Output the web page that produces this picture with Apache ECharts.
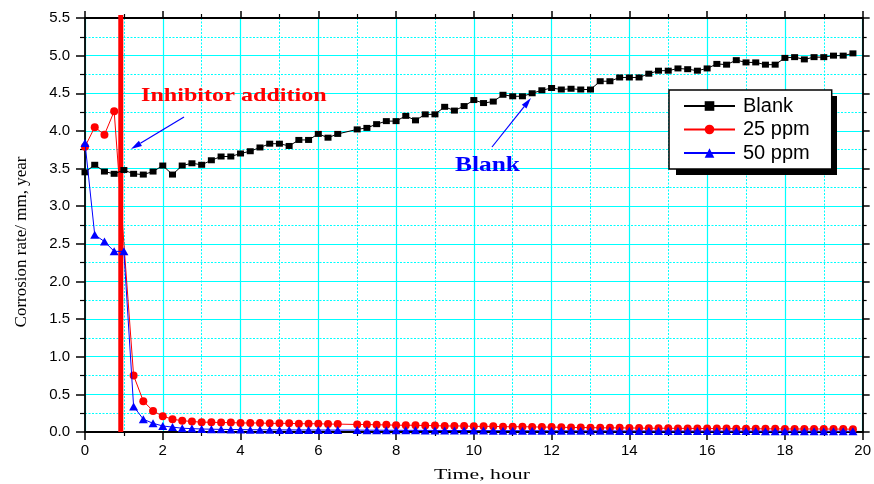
<!DOCTYPE html>
<html>
<head>
<meta charset="utf-8">
<script src="https://cdn.jsdelivr.net/npm/echarts@6/dist/echarts.min.js"></script>
<style>
  html, body { margin: 0; padding: 0; background: #fff; }
  #chart { width: 874px; height: 484px; }
</style>
</head>
<body>
<div id="chart"></div>
<script>
// Readings taken every 15 minutes over 20 hours (the 6.75 h reading is missing).
const hours = Array.from({ length: 80 }, (_, i) => i * 0.25);

// Corrosion rate, mm/year
const blankRate = [
  3.45, 3.55, 3.46, 3.43, 3.48, 3.43, 3.42, 3.46,   // 0 - 1.75 h
  3.54, 3.42, 3.54, 3.57, 3.55, 3.61, 3.66, 3.66,   // 2 - 3.75 h
  3.70, 3.73, 3.78, 3.83, 3.83, 3.80, 3.88, 3.88,   // 4 - 5.75 h
  3.96, 3.91, 3.96, null, 4.02, 4.04, 4.09, 4.13,   // 6 - 7.75 h
  4.13, 4.20, 4.14, 4.22, 4.22, 4.32, 4.27, 4.33,   // 8 - 9.75 h
  4.41, 4.37, 4.39, 4.48, 4.46, 4.46, 4.50, 4.54,   // 10 - 11.75 h
  4.57, 4.55, 4.56, 4.55, 4.55, 4.66, 4.66, 4.71,   // 12 - 13.75 h
  4.71, 4.71, 4.76, 4.80, 4.80, 4.83, 4.82, 4.80,   // 14 - 15.75 h
  4.83, 4.89, 4.88, 4.94, 4.91, 4.91, 4.88, 4.88,   // 16 - 17.75 h
  4.97, 4.98, 4.95, 4.98, 4.98, 5.00, 5.00, 5.03    // 18 - 19.75 h
];

const ppm25Rate = [
  3.79, 4.05, 3.95, 4.26, null, 0.75, 0.41, 0.28,
  0.21, 0.17, 0.15, 0.14, 0.13, 0.13, 0.125, 0.125,
  0.12, 0.12, 0.12, 0.115, 0.115, 0.115, 0.11, 0.11,
  0.11, 0.105, 0.105, null, 0.10, 0.10, 0.095, 0.095,
  0.09, 0.09, 0.09, 0.085, 0.085, 0.08, 0.08, 0.08,
  0.075, 0.075, 0.075, 0.07, 0.07, 0.07, 0.068, 0.065,
  0.065, 0.063, 0.06, 0.06, 0.058, 0.056, 0.055, 0.055,
  0.053, 0.052, 0.05, 0.05, 0.05, 0.048, 0.048, 0.047,
  0.046, 0.045, 0.045, 0.044, 0.043, 0.043, 0.042, 0.042,
  0.041, 0.04, 0.04, 0.04, 0.04, 0.039, 0.039, 0.038
];

const ppm50Rate = [
  3.84, 2.62, 2.53, 2.40, 2.40, 0.34, 0.17, 0.115,
  0.08, 0.065, 0.05, 0.045, 0.04, 0.037, 0.035, 0.033,
  0.032, 0.03, 0.03, 0.029, 0.028, 0.028, 0.027, 0.027,
  0.026, 0.026, 0.025, null, 0.025, 0.024, 0.024, 0.023,
  0.023, 0.022, 0.022, 0.021, 0.021, 0.02, 0.02, 0.02,
  0.019, 0.019, 0.018, 0.018, 0.018, 0.017, 0.017, 0.017,
  0.016, 0.016, 0.016, 0.015, 0.015, 0.015, 0.015, 0.014,
  0.014, 0.014, 0.014, 0.013, 0.013, 0.013, 0.013, 0.013,
  0.012, 0.012, 0.012, 0.012, 0.012, 0.012, 0.011, 0.011,
  0.011, 0.011, 0.011, 0.011, 0.01, 0.01, 0.01, 0.01
];

// Time at which the inhibitor was dosed
const additionHour = 0.92;

const seriesNames = ['Blank', '25 ppm', '50 ppm'];

function pairs(values) {
  const out = [];
  values.forEach((v, i) => { if (v !== null) out.push([hours[i], v]); });
  return out;
}

function arrow(x1, y1, x2, y2, color) {
  const dx = x2 - x1, dy = y2 - y1, len = Math.hypot(dx, dy);
  const ux = dx / len, uy = dy / len, hl = 11, hw = 3;
  const bx = x2 - ux * hl, by = y2 - uy * hl;
  return [
    { type: 'line', shape: { x1: x1, y1: y1, x2: bx, y2: by },
      style: { stroke: color, lineWidth: 1.2 }, z: 20 },
    { type: 'polygon',
      shape: { points: [[x2, y2], [bx - uy * hw, by + ux * hw], [bx + uy * hw, by - ux * hw]] },
      style: { fill: color }, z: 20 }
  ];
}

const black = '#000000';
const cyan = '#00ffff';

const axisLineStyle = { show: true, onZero: false, lineStyle: { color: black, width: 1.8 } };
const majorSplit = { show: true, lineStyle: { color: cyan, width: 1.2 } };
const minorSplit = { show: true, lineStyle: { color: cyan, width: 1, type: [2, 1.5] } };
const tickFont = { color: black, fontFamily: 'Liberation Sans', fontSize: 15 };

const chart = echarts.init(document.getElementById('chart'), null, { renderer: 'canvas' });

chart.setOption({
  animation: false,
  backgroundColor: '#ffffff',
  grid: { left: 85, right: 11, top: 18, bottom: 52 },
  xAxis: [
    {
      type: 'value', min: 0, max: 20, interval: 2, position: 'bottom',
      axisLine: axisLineStyle,
      axisTick: { show: true, inside: false, length: 8, lineStyle: { color: black, width: 1.5 } },
      minorTick: { show: true, splitNumber: 2, length: 4, lineStyle: { color: black, width: 1.2 } },
      axisLabel: Object.assign({ margin: 11 }, tickFont),
      splitLine: majorSplit,
      minorSplitLine: minorSplit
    },
    {
      type: 'value', min: 0, max: 20, interval: 2, position: 'top',
      axisLine: axisLineStyle,
      axisTick: { show: true, inside: false, length: 7, lineStyle: { color: black, width: 1.5 } },
      minorTick: { show: true, splitNumber: 2, length: 4, lineStyle: { color: black, width: 1.2 } },
      axisLabel: { show: false },
      splitLine: { show: false }
    }
  ],
  yAxis: [
    {
      type: 'value', min: 0, max: 5.5, interval: 0.5, position: 'left',
      axisLine: axisLineStyle,
      axisTick: { show: true, inside: false, length: 9, lineStyle: { color: black, width: 1.5 } },
      minorTick: { show: true, splitNumber: 2, length: 5, lineStyle: { color: black, width: 1.2 } },
      axisLabel: Object.assign({ margin: 15, formatter: v => v.toFixed(1) }, tickFont),
      splitLine: majorSplit,
      minorSplitLine: minorSplit
    },
    {
      type: 'value', min: 0, max: 5.5, interval: 0.5, position: 'right',
      axisLine: axisLineStyle,
      axisTick: { show: true, inside: false, length: 7, lineStyle: { color: black, width: 1.5 } },
      minorTick: { show: true, splitNumber: 2, length: 4, lineStyle: { color: black, width: 1.2 } },
      axisLabel: { show: false },
      splitLine: { show: false }
    }
  ],
  legend: {
    data: seriesNames,
    orient: 'vertical',
    left: 669, top: 90,
    padding: [6, 22, 6, 14],
    itemGap: 3.5,
    itemWidth: 51, itemHeight: 12,
    backgroundColor: '#ffffff',
    borderColor: black, borderWidth: 1.5, borderRadius: 0,
    textStyle: { fontFamily: 'Liberation Sans', fontSize: 20, lineHeight: 20, color: black, padding: [0, 0, 0, 3] },
    z: 10
  },
  graphic: [
    // legend drop shadow
    { type: 'rect', shape: { x: 676, y: 96, width: 161, height: 79 }, style: { fill: black }, z: 1 },
    { type: 'text', x: 141, y: 96, scaleX: 1.27,
      style: { text: 'Inhibitor addition', fontFamily: 'Liberation Serif', fontWeight: 'bold', fontSize: 19,
               fill: '#ff0000', align: 'left', verticalAlign: 'middle' }, z: 20 },
    { type: 'text', x: 455, y: 166, scaleX: 1.27,
      style: { text: 'Blank', fontFamily: 'Liberation Serif', fontWeight: 'bold', fontSize: 20,
               fill: '#0000ff', align: 'left', verticalAlign: 'middle' }, z: 20 },
    { type: 'text', x: 482, y: 475, scaleX: 1.45,
      style: { text: 'Time, hour', fontFamily: 'Liberation Serif', fontSize: 15,
               fill: black, align: 'center', verticalAlign: 'middle' }, z: 20 },
    { type: 'text', x: 22, y: 242, rotation: Math.PI / 2,
      style: { text: 'Corrosion rate/ mm, year', fontFamily: 'Liberation Serif', fontSize: 17,
               fill: black, align: 'center', verticalAlign: 'middle' }, z: 20 }
  ].concat(arrow(184, 117, 131, 149, '#0000ff'), arrow(492, 147, 531, 98, '#0000ff')),
  series: [
    {
      name: 'inhibitor dosing', type: 'line', silent: true, clip: false, z: 1,
      data: [[additionHour, 0], [additionHour, 5.54]],
      symbol: 'none',
      lineStyle: { color: '#ff0000', width: 5 }
    },
    {
      name: 'Blank', type: 'line', z: 5,
      data: pairs(blankRate),
      symbol: 'rect', symbolSize: [7, 6],
      itemStyle: { color: black },
      lineStyle: { color: black, width: 1 }
    },
    {
      name: '25 ppm', type: 'line', z: 4,
      data: pairs(ppm25Rate),
      symbol: 'circle', symbolSize: 8,
      itemStyle: { color: '#ff0000' },
      lineStyle: { color: '#ff0000', width: 1 }
    },
    {
      name: '50 ppm', type: 'line', z: 6,
      data: pairs(ppm50Rate),
      symbol: 'triangle', symbolSize: [9, 8],
      itemStyle: { color: '#0000ff' },
      lineStyle: { color: '#0000ff', width: 1 }
    }
  ]
});
</script>
</body>
</html>
